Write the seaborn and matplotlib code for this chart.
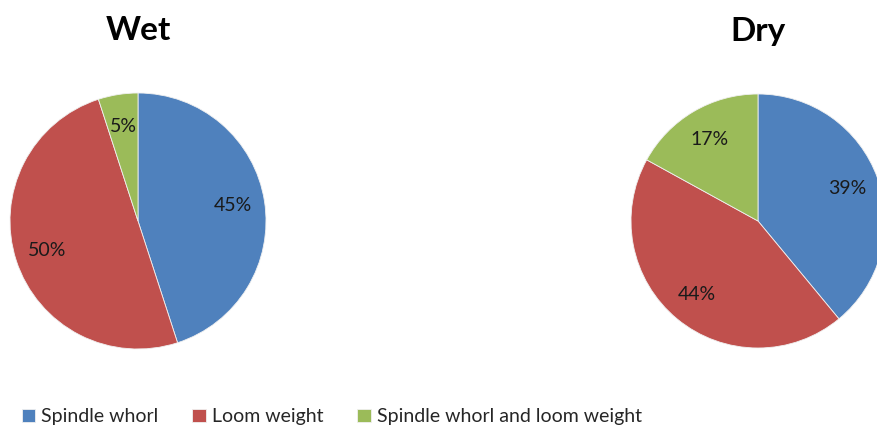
import matplotlib
matplotlib.use("Agg")
import matplotlib.pyplot as plt
import seaborn as sns

categories = ["Spindle whorl", "Loom weight", "Spindle whorl and loom weight"]
wet_values = [45, 50, 5]
dry_values = [39, 44, 17]
titles = ["Wet", "Dry"]
colors = ["#4F81BD", "#C0504D", "#9BBB59"]

sns.set_theme(style="white")
plt.rcParams["font.family"] = ["Lato", "DejaVu Sans"]

W, H = 877, 425
fig = plt.figure(figsize=(W / 100, H / 100), dpi=100)
fig.patch.set_facecolor("white")

def add_pie(cx, cy, r, values, title):
    ax = fig.add_axes([(cx - r) / W, (H - cy - r) / H, 2 * r / W, 2 * r / H])
    wedges, texts, autotexts = ax.pie(
        values, colors=colors, startangle=90, counterclock=False,
        autopct="%d%%", pctdistance=0.75, radius=1,
        wedgeprops=dict(linewidth=0.6, edgecolor="#f0f0f0"),
        textprops=dict(fontsize=14, color="#1a1a1a"),
    )
    ax.set_xlim(-1, 1)
    ax.set_ylim(-1, 1)
    ax.set_aspect("equal")
    ax.axis("off")
    fig.text(cx / W, 1 - 31 / H, title, ha="center", va="center",
             fontsize=24, fontweight="bold", color="black")
    return wedges

wedges = add_pie(138, 221, 128, wet_values, titles[0])
add_pie(758, 221, 127, dry_values, titles[1])

leg = fig.legend(wedges, categories, loc="lower left",
                 bbox_to_anchor=(14 / W, -8 / H), ncol=3, frameon=False,
                 fontsize=14, handlelength=0.7, handleheight=0.7,
                 handletextpad=0.3, columnspacing=1.75, borderaxespad=0)

fig.savefig("out.png", dpi=100)
